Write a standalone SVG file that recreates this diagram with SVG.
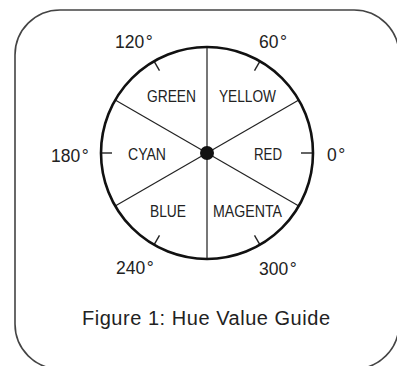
<svg xmlns="http://www.w3.org/2000/svg" width="397" height="366" viewBox="0 0 397 366">
<style>
.frame{fill:none;stroke:#444;stroke-width:1.6}
.rim{fill:none;stroke:#111;stroke-width:2.6}
.spoke{stroke:#222;stroke-width:1.2}
.vert{stroke:#555;stroke-width:1.6}
.tick{stroke:#222;stroke-width:1.4}
.deg{font-family:"Liberation Sans",Arial,sans-serif;font-size:17.5px;fill:#222}
.hue{font-family:"Liberation Sans",Arial,sans-serif;font-size:16px;fill:#222;text-anchor:middle}
.cap{font-family:"Liberation Sans",Arial,sans-serif;font-size:20px;fill:#222;text-anchor:middle}
</style>
<rect id="frame" class="frame" x="15" y="10" width="384" height="359" rx="45" ry="45"/>
<g id="connectors">
<line class="vert" x1="207" y1="47" x2="207" y2="259"/>
<line class="spoke" x1="207" y1="153" x2="298.8" y2="100"/>
<line class="spoke" x1="207" y1="153" x2="115.2" y2="100"/>
<line class="spoke" x1="207" y1="153" x2="115.2" y2="206"/>
<line class="spoke" x1="207" y1="153" x2="298.8" y2="206"/>
<line class="tick" x1="301" y1="153" x2="313" y2="153"/>
<line class="tick" x1="260" y1="61.2" x2="254.5" y2="70.7"/>
<line class="tick" x1="154" y1="61.2" x2="159.5" y2="70.7"/>
<line class="tick" x1="101" y1="153" x2="112" y2="153"/>
<line class="tick" x1="154" y1="244.8" x2="159.5" y2="235.3"/>
<line class="tick" x1="260" y1="244.8" x2="254.5" y2="235.3"/>
</g>
<g id="wheel">
<circle class="rim" cx="207" cy="153" r="106"/>
<circle cx="207" cy="153" r="7" fill="#111"/>
</g>
<g id="hue-labels">
<text id="green" class="hue" x="171.5" y="102" textLength="49" lengthAdjust="spacingAndGlyphs">GREEN</text>
<text id="yellow" class="hue" x="247.5" y="102" textLength="57" lengthAdjust="spacingAndGlyphs">YELLOW</text>
<text id="cyan" class="hue" x="147" y="159.5" textLength="38" lengthAdjust="spacingAndGlyphs">CYAN</text>
<text id="red" class="hue" x="268" y="159.5" textLength="28" lengthAdjust="spacingAndGlyphs">RED</text>
<text id="blue" class="hue" x="168" y="217" textLength="36" lengthAdjust="spacingAndGlyphs">BLUE</text>
<text id="magenta" class="hue" x="247.5" y="217" textLength="69" lengthAdjust="spacingAndGlyphs">MAGENTA</text>
</g>
<g id="degree-labels">
<text class="deg" x="115" y="48">120<tspan dx="1.5">°</tspan></text>
<text class="deg" x="259" y="48">60<tspan dx="1.5">°</tspan></text>
<text class="deg" x="51" y="162">180<tspan dx="1.5">°</tspan></text>
<text class="deg" x="327" y="161">0<tspan dx="1.5">°</tspan></text>
<text class="deg" x="116" y="274">240<tspan dx="1.5">°</tspan></text>
<text class="deg" x="259" y="275">300<tspan dx="1.5">°</tspan></text>
</g>
<text id="caption" class="cap" x="206" y="325" textLength="248">Figure 1: Hue Value Guide</text>
</svg>
